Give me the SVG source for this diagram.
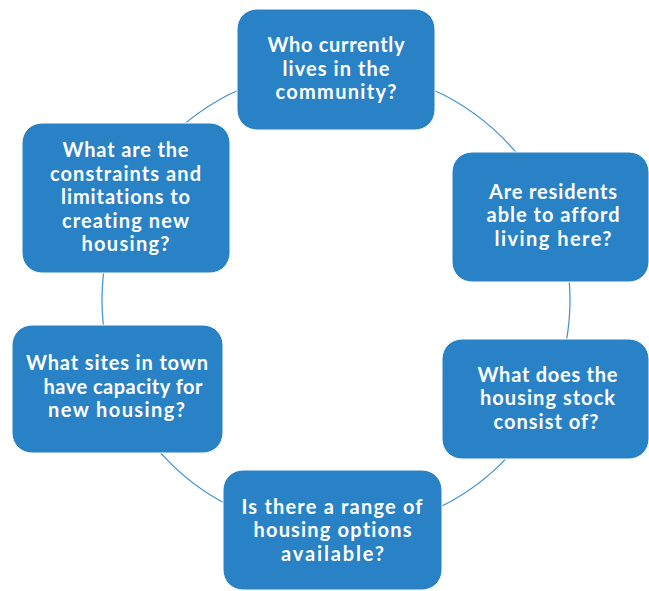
<svg xmlns="http://www.w3.org/2000/svg" width="649" height="591" viewBox="0 0 649 591">
  <style>
    .box { fill: #2a82c6; stroke: #ffffff; stroke-width: 1; }
    .lbl { fill: #ffffff; font-family: Lato, "Open Sans", "DejaVu Sans", sans-serif; font-weight: 700; font-size: 20px; text-anchor: middle; font-variant-ligatures: none; font-feature-settings: "liga" 0, "clig" 0, "dlig" 0; }
    .ring { fill: none; stroke: #3d8fd2; stroke-width: 1.2; }
  </style>
  <rect width="649" height="591" fill="#ffffff"/>
  <g id="connectors">
    <ellipse class="ring" cx="336" cy="300" rx="234" ry="231"/>
  </g>
  <g id="node-who-lives">
    <rect class="box" x="237" y="9" width="198" height="121" rx="20"/>
    <text class="lbl" x="336" y="52" textLength="137" lengthAdjust="spacing">Who currently</text>
    <text class="lbl" x="336" y="75.5" textLength="107" lengthAdjust="spacing">lives in the</text>
    <text class="lbl" x="336" y="99" textLength="121" lengthAdjust="spacing">community?</text>
  </g>
  <g id="node-afford">
    <rect class="box" x="452" y="152" width="197" height="130" rx="20"/>
    <text class="lbl" x="553" y="199" textLength="128" lengthAdjust="spacing">Are residents</text>
    <text class="lbl" x="553" y="222" textLength="133" lengthAdjust="spacing">able to afford</text>
    <text class="lbl" x="553" y="246" textLength="117" lengthAdjust="spacing">living here?</text>
  </g>
  <g id="node-stock">
    <rect class="box" x="442" y="339" width="207" height="120" rx="20"/>
    <text class="lbl" x="547.5" y="381.5" textLength="140" lengthAdjust="spacing">What does the</text>
    <text class="lbl" x="547.5" y="405" textLength="135" lengthAdjust="spacing">housing stock</text>
    <text class="lbl" x="546" y="428.5" textLength="105" lengthAdjust="spacing">consist of?</text>
  </g>
  <g id="node-range">
    <rect class="box" x="223" y="470" width="219" height="120" rx="20"/>
    <text class="lbl" x="332" y="514" textLength="181" lengthAdjust="spacing">Is there a range of</text>
    <text class="lbl" x="332.5" y="537" textLength="158" lengthAdjust="spacing">housing options</text>
    <text class="lbl" x="332.5" y="560.5" textLength="103" lengthAdjust="spacing">available?</text>
  </g>
  <g id="node-sites">
    <rect class="box" x="12" y="325" width="211" height="128" rx="20"/>
    <text class="lbl" x="117" y="370" textLength="182" lengthAdjust="spacing">What sites in town</text>
    <text class="lbl" x="123" y="393.5" textLength="159" lengthAdjust="spacing">have capacity for</text>
    <text class="lbl" x="116.5" y="417" textLength="137" lengthAdjust="spacing">new housing?</text>
  </g>
  <g id="node-constraints">
    <rect class="box" x="22" y="123" width="208" height="150" rx="20"/>
    <text class="lbl" x="125.5" y="157" textLength="126" lengthAdjust="spacing">What are the</text>
    <text class="lbl" x="125.5" y="180.5" textLength="151" lengthAdjust="spacing">constraints and</text>
    <text class="lbl" x="125.5" y="204" textLength="129" lengthAdjust="spacing">limitations to</text>
    <text class="lbl" x="125.5" y="227.5" textLength="127" lengthAdjust="spacing">creating new</text>
    <text class="lbl" x="125.5" y="251" textLength="88" lengthAdjust="spacing">housing?</text>
  </g>
</svg>
